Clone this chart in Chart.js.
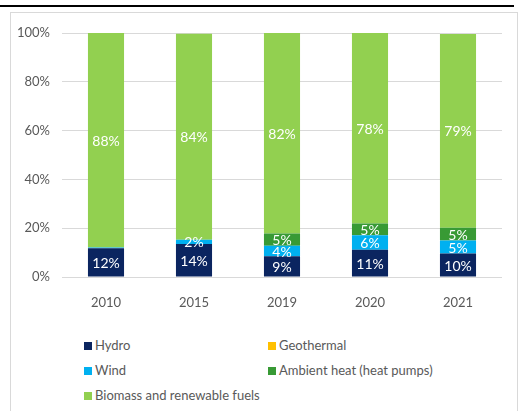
<!DOCTYPE html>
<html>
<head>
<meta charset="utf-8">
<script src="https://cdn.jsdelivr.net/npm/chart.js@4"></script>
<style>
  body { margin: 0; background: #fff; font-family: Lato, sans-serif; }
  #topline { position: absolute; left: 0; top: 5px; width: 514px; height: 2px; background: #000; }
  #frame { position: absolute; left: 10px; top: 12px; width: 506px; height: 400px; border: 1px solid #d9d9d9; }
  #wrap { position: absolute; left: 0; top: 0; width: 522px; height: 320px; }
  #legend { position: absolute; left: 84px; top: 336px; width: 400px; }
  .item { position: absolute; font-size: 13px; color: #595959; white-space: nowrap; line-height: 18px; }
  .item span.box { display: inline-block; width: 8px; height: 8px; margin-right: 3px; vertical-align: 0px; }
</style>
</head>
<body>
<div id="topline"></div>
<div id="frame"></div>
<div id="wrap"><canvas id="chart"></canvas></div>
<div id="legend"></div>
<script>
const years = ['2010', '2015', '2019', '2020', '2021'];
const hydro = [11.8, 13.5, 8.5, 11.2, 9.6];
const geothermal = [0, 0, 0, 0, 0];
const wind = [0.3, 1.8, 4.3, 5.9, 5.4];
const ambientHeat = [0, 0, 5.0, 4.8, 5.2];
const biomass = [87.9, 84.4, 82.2, 78.1, 79.4];
const yTicks = [0, 20, 40, 60, 80, 100];

const series = [
    {label: 'Hydro', data: hydro, color: '#0b2560'},
    {label: 'Geothermal', data: geothermal, color: '#ffc000'},
    {label: 'Wind', data: wind, color: '#00b0f0'},
    {label: 'Ambient heat (heat pumps)', data: ambientHeat, color: '#389a35'},
    {label: 'Biomass and renewable fuels', data: biomass, color: '#92d050'}
];

// white percentage labels in the middle of each segment
const segmentLabels = {
    id: 'segmentLabels',
    afterDatasetsDraw(chart) {
        const ctx = chart.ctx;
        ctx.save();
        ctx.fillStyle = '#ffffff';
        ctx.font = '14px Lato, sans-serif';
        ctx.textAlign = 'center';
        ctx.textBaseline = 'middle';
        chart.data.datasets.forEach((ds, i) => {
            chart.getDatasetMeta(i).data.forEach((bar, j) => {
                const v = ds.data[j];
                if (v < 1.5) return;
                ctx.fillText(Math.round(v) + '%', bar.x, (bar.y + bar.base) / 2 + 1);
            });
        });
        ctx.restore();
    }
};

const ctx = document.getElementById('chart').getContext('2d');
new Chart(ctx, {
    type: 'bar',
    data: {
        labels: years,
        datasets: series.map(s => ({
            label: s.label,
            data: s.data,
            backgroundColor: s.color,
            borderWidth: 0,
            categoryPercentage: 1,
            barPercentage: 0.41
        }))
    },
    options: {
        responsive: true,
        maintainAspectRatio: false,
        animation: false,
        layout: {padding: {left: 12, right: 20, top: 33, bottom: 13}},
        plugins: {legend: {display: false}, tooltip: {enabled: false}},
        scales: {
            x: {
                stacked: true,
                grid: {display: false},
                border: {display: false},
                ticks: {color: '#595959', font: {family: 'Lato', size: 13}, padding: 10},
                afterFit(scale) { scale.height = 30; }
            },
            y: {
                stacked: true,
                min: 0,
                max: 100,
                afterBuildTicks(scale) { scale.ticks = yTicks.map(v => ({value: v})); },
                grid: {color: '#d9d9d9', drawTicks: false},
                border: {display: false},
                ticks: {color: '#595959', font: {family: 'Lato', size: 13}, padding: 12,
                    callback: v => v + '%'},
                afterFit(scale) { scale.width = 50; }
            }
        }
    },
    plugins: [segmentLabels]
});

// two-column legend under the chart
const legend = document.getElementById('legend');
const pos = [[0, 0], [184, 0], [0, 25], [184, 25], [0, 50]];
series.forEach((s, i) => {
    const el = document.createElement('div');
    el.className = 'item';
    el.style.left = pos[i][0] + 'px';
    el.style.top = pos[i][1] + 'px';
    el.innerHTML = '<span class="box" style="background:' + s.color + '"></span>' + s.label;
    legend.appendChild(el);
});
</script>
</body>
</html>
